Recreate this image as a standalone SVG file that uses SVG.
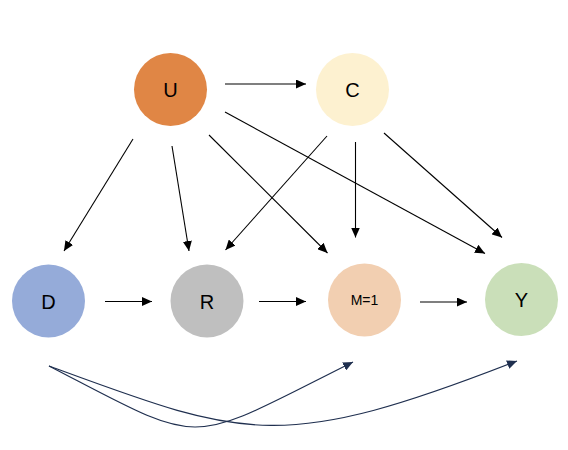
<svg xmlns="http://www.w3.org/2000/svg" width="568" height="450" viewBox="0 0 568 450">
<defs>
<marker id="ah" markerUnits="userSpaceOnUse" markerWidth="11" markerHeight="9" refX="10" refY="4.5" orient="auto"><path d="M0,0 L10,4.5 L0,9 z" fill="#000"/></marker>
<marker id="ahn" markerUnits="userSpaceOnUse" markerWidth="11" markerHeight="9" refX="10" refY="4.5" orient="auto"><path d="M0,0 L10,4.5 L0,9 z" fill="#1f2f4f"/></marker>
</defs>
<style>
.lbl{font-family:"Liberation Sans",Arial,sans-serif;font-size:20px;fill:#000;text-anchor:middle;dominant-baseline:central}
.sm{font-size:14px}
.e{stroke:#000;stroke-width:1.1;fill:none;marker-end:url(#ah)}
.c{stroke:#1f2f4f;stroke-width:1.2;fill:none;marker-end:url(#ahn)}
</style>
<rect width="568" height="450" fill="#fff"/>
<g id="connectors">
<line class="e" x1="225" y1="84" x2="306" y2="84"/>
<line class="e" x1="133" y1="139" x2="64" y2="251"/>
<line class="e" x1="172" y1="146" x2="189" y2="251"/>
<line class="e" x1="209" y1="135" x2="327.5" y2="253"/>
<line class="e" x1="225" y1="112" x2="485" y2="253.5"/>
<line class="e" x1="327" y1="136" x2="225.5" y2="250"/>
<line class="e" x1="355.5" y1="142" x2="355.5" y2="237.5"/>
<line class="e" x1="384" y1="133" x2="502" y2="237.5"/>
<line class="e" x1="105" y1="301.5" x2="152" y2="301.5"/>
<line class="e" x1="259" y1="301.5" x2="306" y2="301.5"/>
<line class="e" x1="420" y1="302" x2="467" y2="302"/>
<path class="c" d="M49,366 C209,449 183,447 353,362"/>
<path class="c" d="M49,366 C245,438 279,454 517,361"/>
</g>
<g id="U"><circle cx="170.5" cy="89.5" r="36.5" fill="#e08645"/><text class="lbl" x="170.5" y="90">U</text></g>
<g id="C"><circle cx="352.5" cy="89.5" r="36.5" fill="#fdf1d0"/><text class="lbl" x="352.5" y="90">C</text></g>
<g id="D"><circle cx="48.5" cy="301" r="36.5" fill="#95abd9"/><text class="lbl" x="48.5" y="302">D</text></g>
<g id="R"><circle cx="207" cy="301" r="36.5" fill="#bfbfbf"/><text class="lbl" x="207" y="302">R</text></g>
<g id="M"><circle cx="364.5" cy="300" r="36.5" fill="#f2cfb1"/><text class="lbl sm" x="364.5" y="300">M=1</text></g>
<g id="Y"><circle cx="521.5" cy="299.5" r="36.5" fill="#cadfb9"/><text class="lbl" x="521.5" y="300">Y</text></g>
</svg>
